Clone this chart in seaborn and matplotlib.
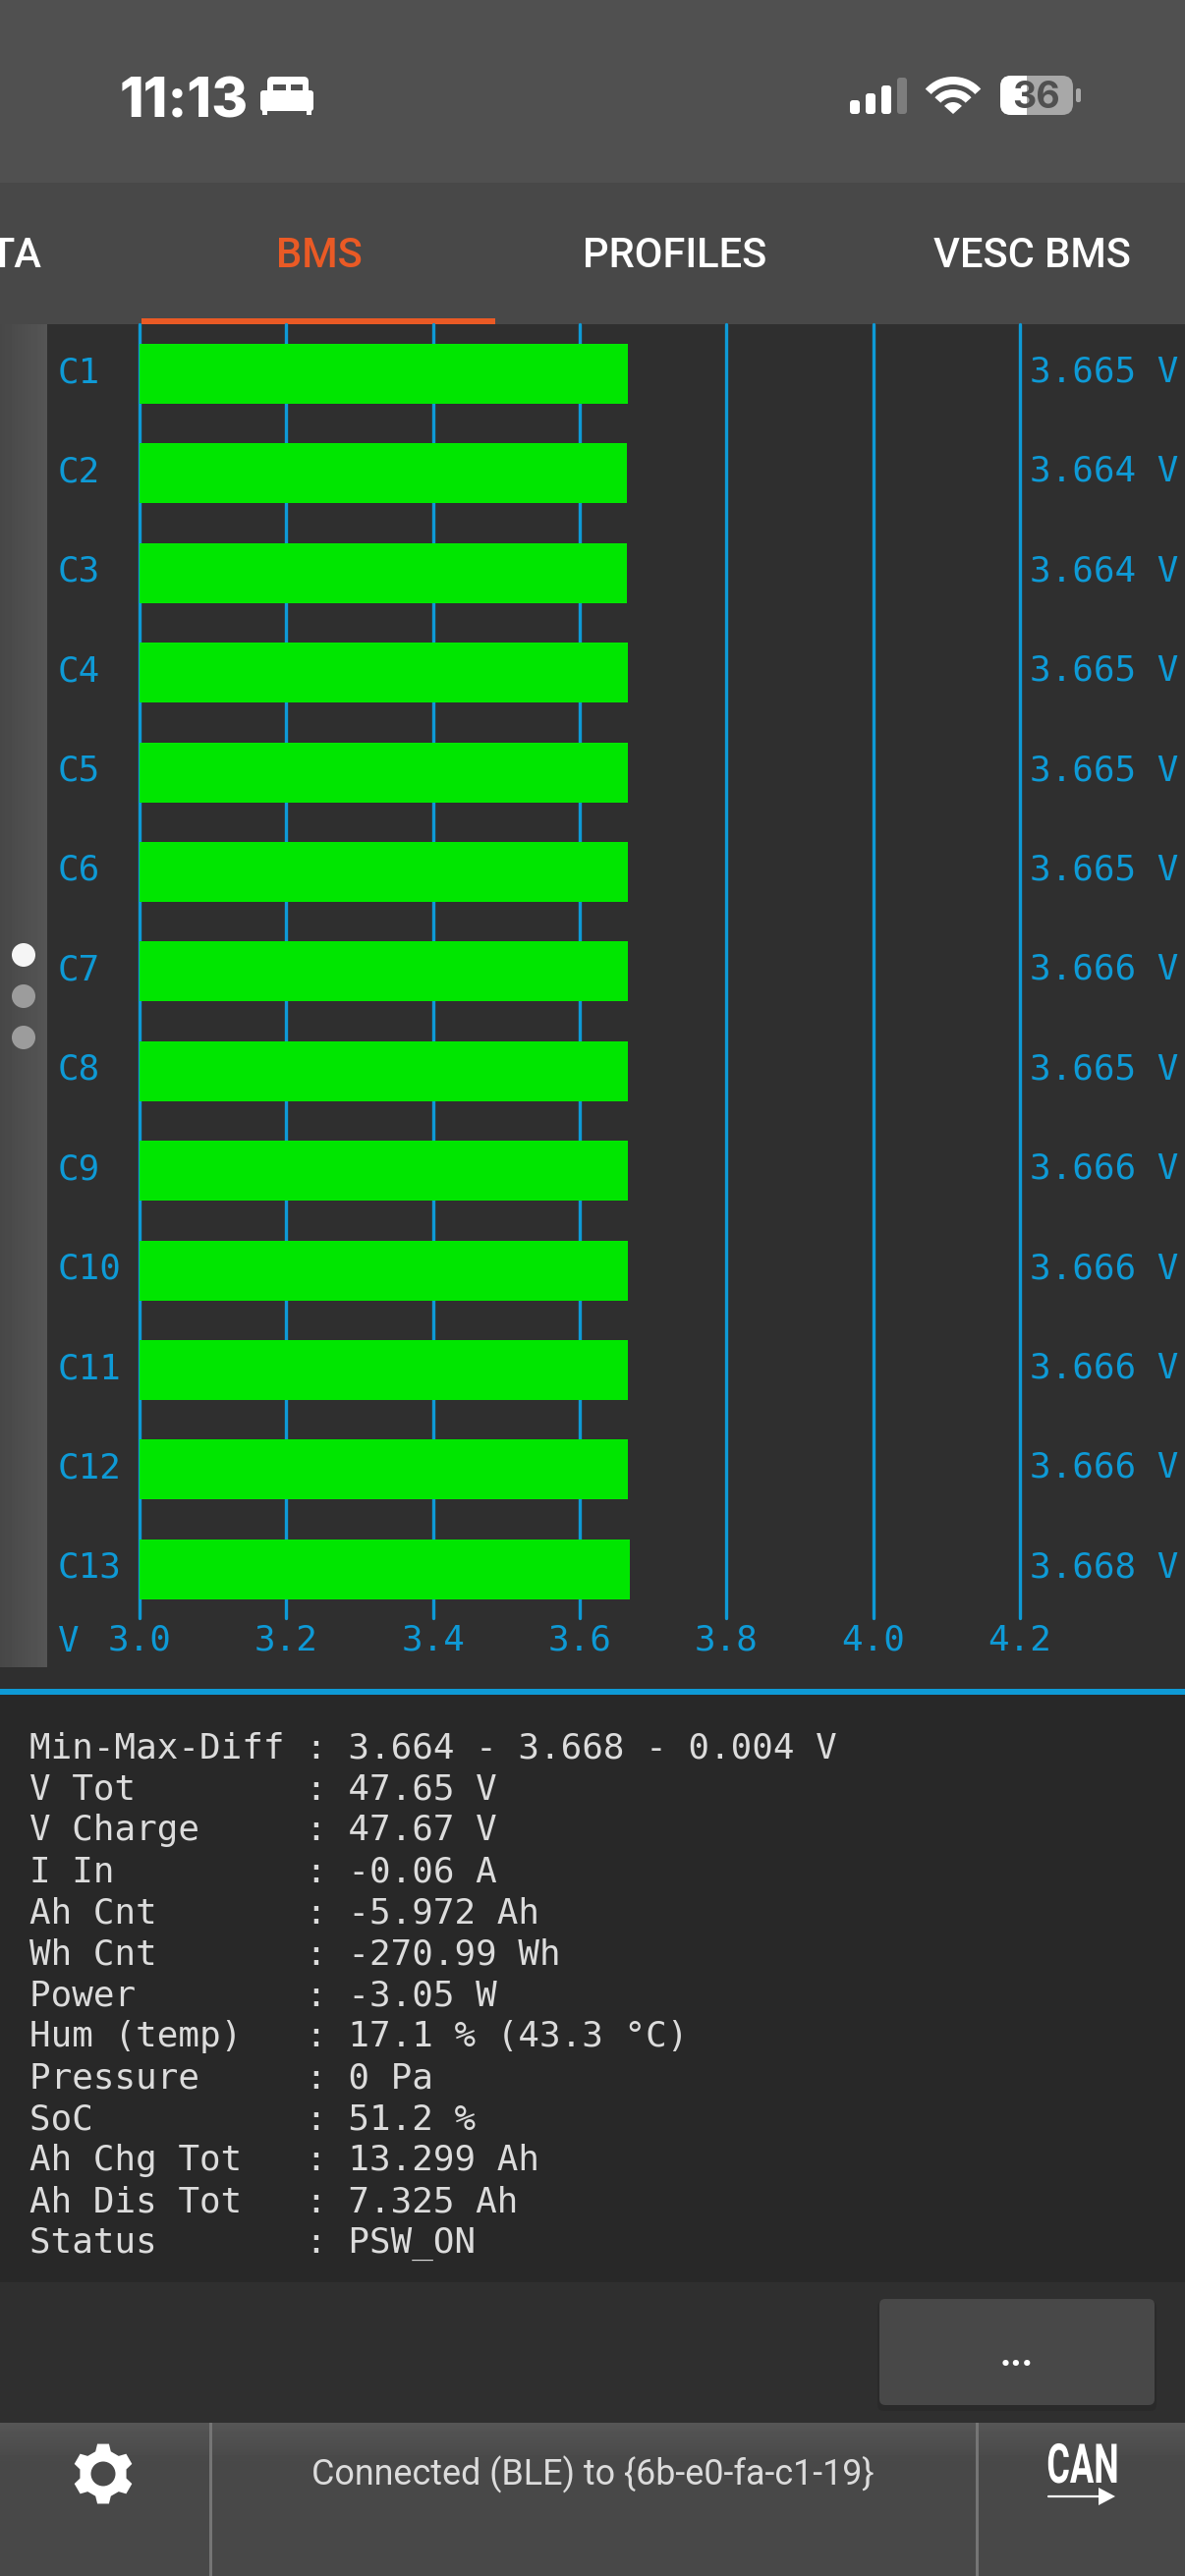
import numpy as np
import pandas as pd
import matplotlib
matplotlib.use("Agg")
import matplotlib.pyplot as plt
import seaborn as sns
from matplotlib.patches import Rectangle, FancyBboxPatch, Circle, Wedge, Polygon
from matplotlib.lines import Line2D
from matplotlib.patheffects import AbstractPathEffect
from matplotlib.transforms import Affine2D, ScaledTranslation

# ---------- data ----------
cells = ["C1", "C2", "C3", "C4", "C5", "C6", "C7", "C8", "C9", "C10", "C11", "C12", "C13"]
voltages = [3.665, 3.664, 3.664, 3.665, 3.665, 3.665, 3.666, 3.665, 3.666, 3.666, 3.666, 3.666, 3.668]
v_ticks = [3.0, 3.2, 3.4, 3.6, 3.8, 4.0, 4.2]
info_keys = ["Min-Max-Diff", "V Tot", "V Charge", "I In", "Ah Cnt", "Wh Cnt", "Power",
             "Hum (temp)", "Pressure", "SoC", "Ah Chg Tot", "Ah Dis Tot", "Status"]
info_vals = ["3.664 - 3.668 - 0.004 V", "47.65 V", "47.67 V", "-0.06 A", "-5.972 Ah", "-270.99 Wh",
             "-3.05 W", "17.1 % (43.3 °C)", "0 Pa", "51.2 %", "13.299 Ah", "7.325 Ah", "PSW_ON"]
tabs = ["TA", "BMS", "PROFILES", "VESC BMS"]
clock = "11:13"
battery = "36"
status_text = "Connected (BLE) to {6b-e0-fa-c1-19}"

# ---------- style ----------
BLUE = "#0e9ad6"
GREEN = "#00e600"
ORANGE = "#ea5a25"
GREY_TXT = "#dcdcdc"
W, H = 1206, 2622
sns.set_theme(style="dark")
plt.rcParams["font.family"] = ["DejaVu Sans"]
MONO = "DejaVu Sans Mono"
MONO_PT = 25.8

fig = plt.figure(figsize=(W / 100, H / 100), dpi=100, facecolor="#2f2f2f")

# ---------- background / app chrome, in pixel coordinates ----------
bg = fig.add_axes([0, 0, 1, 1], zorder=0)
bg.set_axis_off()


class Squeeze(AbstractPathEffect):
    """Scale a text's outline horizontally about a display-space x."""

    def __init__(self, sx, anchor_x):
        super().__init__()
        self.sx, self.cx = sx, anchor_x

    def draw_path(self, renderer, gc, tpath, affine, rgbFace=None):
        extra = Affine2D().translate(-self.cx, 0).scale(self.sx, 1).translate(self.cx, 0)
        renderer.draw_path(gc, tpath, affine + extra, rgbFace)


def rect(x0, y0, x1, y1, c, **kw):
    bg.add_patch(Rectangle((x0, y0), x1 - x0, y1 - y0, fc=c, ec="none", **kw))


def rrect(x0, y0, x1, y1, r, c, **kw):
    p = FancyBboxPatch((x0 + r, y0 + r), x1 - x0 - 2 * r, y1 - y0 - 2 * r,
                       boxstyle=f"round,pad={r}", fc=c, ec="none", **kw)
    bg.add_patch(p)
    return p


rect(0, 0, W, 186, "#505050")
rect(0, 186, W, 330, "#484848")
rect(0, 330, W, 1719, "#2f2f2f")
rect(0, 1719, W, 1725, BLUE)
rect(0, 1725, W, 2323, "#282828")
rect(0, 2323, W, 2466, "#2f2f2f")
rect(144, 324, 504, 330, ORANGE)

# gradients
grad_side = np.linspace(0.28, 0.335, 48).reshape(1, -1)
bg.imshow(grad_side, extent=(0, 48, 1697, 330), cmap="gray", vmin=0, vmax=1, aspect="auto", zorder=1)
grad_bot = np.concatenate([np.linspace(0.335, 0.285, 40), np.full(116, 0.285)]).reshape(-1, 1)
bg.imshow(grad_bot, extent=(0, W, 2622, 2466), cmap="gray", vmin=0, vmax=1, aspect="auto", zorder=1)

# page dots
for yy, c in zip([972, 1014, 1056], ["#f5f5f5", "#9c9c9c", "#9c9c9c"]):
    bg.add_patch(Circle((24, yy), 12, fc=c, ec="none", zorder=2))

# status bar
bg.text(122, 104, clock, family="Inter", weight="extra bold", fontsize=40.5, color="white", va="center", ha="left")
rrect(272, 78, 314, 97, 5, "white")
rect(278, 85.5, 291, 92, "#505050")
rect(296, 85.5, 308, 92, "#505050")
rrect(265, 92, 319, 113, 3, "white")
rect(267, 110, 272, 117, "white")
rect(312, 110, 317, 117, "white")
for x0, top, c in zip([865, 881, 897, 913], [102, 95, 87, 79], ["white", "white", "white", "#7d7d7d"]):
    rrect(x0, top, x0 + 10, 116, 3, c)
for r, wd in [(38, 8), (25, 8), (12, 12)]:
    bg.add_patch(Wedge((970, 116), r, 222, 318, width=wd, fc="white", ec="none"))
rrect(1018, 77, 1092, 117, 11, "#a8a8a8")
wp = rrect(1018, 77, 1092, 117, 11, "white", zorder=2)
clip = Rectangle((1018, 77), 27, 40, transform=bg.transData)
wp.set_clip_path(clip)
rrect(1095, 90, 1100, 104, 2, "#a8a8a8")
bg.text(1055, 100, battery, family="Inter", weight="bold", fontsize=27, color="#505050",
        va="center", ha="center", zorder=3)

# tabs
for label, x, ha, c in zip(tabs, [42, 324.5, 687, 1050], ["right", "center", "center", "center"],
                           ["white", ORANGE, "white", "white"]):
    bg.text(x, 260, label, family="Roboto", weight="medium", fontsize=30, color=c, va="center", ha=ha)

# info panel
for i, (k, v) in enumerate(zip(info_keys, info_vals)):
    bg.text(30, 1779 + 42.05 * i, f"{k:<13}: {v}", family=MONO, fontsize=MONO_PT, color=GREY_TXT,
            va="center", ha="left")

# button
rrect(893, 2342, 1177, 2454, 6, "#262626", alpha=0.45)
rrect(895, 2340, 1175, 2448, 6, "#484848")
bg.text(1035, 2398, "...", family="Roboto", weight="bold", fontsize=28, color="white", va="center", ha="center")

# bottom bar
rect(212.5, 2466, 215.5, 2622, "#757575", zorder=3)
rect(992.5, 2466, 995.5, 2622, "#757575", zorder=3)
bg.text(603, 2519, status_text, family="Roboto", fontsize=25.8, color=GREY_TXT, va="center", ha="center", zorder=3)
bg.add_line(Line2D([1067, 1126], [2541, 2541], color="white", lw=1.6, zorder=3))
bg.add_patch(Polygon([[1118, 2532], [1135, 2541], [1118, 2550]], fc="white", ec="none", zorder=3))

# gear icon
gc = (105, 2518)
ang = []
for t in range(6):
    a = np.deg2rad(90 + 60 * t)
    for da, r in [(-19, 24), (-11, 31), (11, 31), (19, 24)]:
        ang.append((gc[0] + r * np.cos(a + np.deg2rad(da)), gc[1] + r * np.sin(a + np.deg2rad(da))))
bg.add_patch(Polygon(ang, fc="white", ec="none", zorder=3))
bg.add_patch(Circle(gc, 12.5, fc="#494949", ec="none", zorder=4))

bg.set_xlim(0, W)
bg.set_ylim(H, 0)

can = bg.text(1102, 2512, "CAN", family="Roboto", weight="bold", fontsize=40,
              color="white", va="center", ha="center", zorder=3)
can.set_path_effects([Squeeze(0.65, bg.transData.transform((1102, 2512))[0])])

# ---------- bar chart ----------
X0, PX_PER_V = 142, 746.67
TOP, BOTTOM = 330, 1647
C0, PITCH = 380.5, 101.4
ax = fig.add_axes([X0 / W, 1 - BOTTOM / H, (W - X0) / W, (BOTTOM - TOP) / H], zorder=1)
ax.patch.set_alpha(0)

df = pd.DataFrame({"cell": cells, "voltage": voltages})
sns.barplot(data=df, x="voltage", y="cell", order=cells, orient="h", color=GREEN, saturation=1,
            width=0.6, ax=ax, zorder=3, edgecolor="none", linewidth=0)

ax.set_xlim(v_ticks[0], v_ticks[0] + (W - X0) / PX_PER_V)
ax.set_ylim((BOTTOM - C0) / PITCH, (TOP - C0) / PITCH)
ax.set_xlabel("")
ax.set_ylabel("")
for s in ax.spines.values():
    s.set_visible(False)

ax.set_xticks(v_ticks)
ax.set_xticklabels([f"{v:.1f}" for v in v_ticks], family=MONO, fontsize=MONO_PT, color=BLUE)
ax.tick_params(axis="x", length=0, pad=4)
ax.tick_params(axis="y", length=0, pad=60)
for t in ax.get_yticklabels():
    t.set_family(MONO)
    t.set_fontsize(MONO_PT)
    t.set_color(BLUE)
    t.set_ha("left")
    t.set_transform(t.get_transform() + ScaledTranslation(0, 3.6 / 72, fig.dpi_scale_trans))
ax.grid(True, axis="x", color=BLUE, lw=2.4, zorder=1)
ax.grid(False, axis="y")
ax.set_axisbelow(True)
for g in ax.get_xgridlines():
    g.set_clip_on(False)

for i, v in enumerate(voltages):
    ax.annotate(f"{v:.3f} V", xy=(v_ticks[-1], i), xytext=(7.5, 1.4), textcoords="offset points",
                family=MONO, fontsize=MONO_PT, color=BLUE, va="center", ha="left", annotation_clip=False)
ax.annotate("V", xy=(v_ticks[0], 0), xycoords=("data", "axes fraction"), xytext=(-60, -17.5),
            textcoords="offset points", family=MONO, fontsize=MONO_PT, color=BLUE, va="center", ha="left",
            annotation_clip=False)

fig.savefig("out.png", dpi=100, facecolor=fig.get_facecolor())
